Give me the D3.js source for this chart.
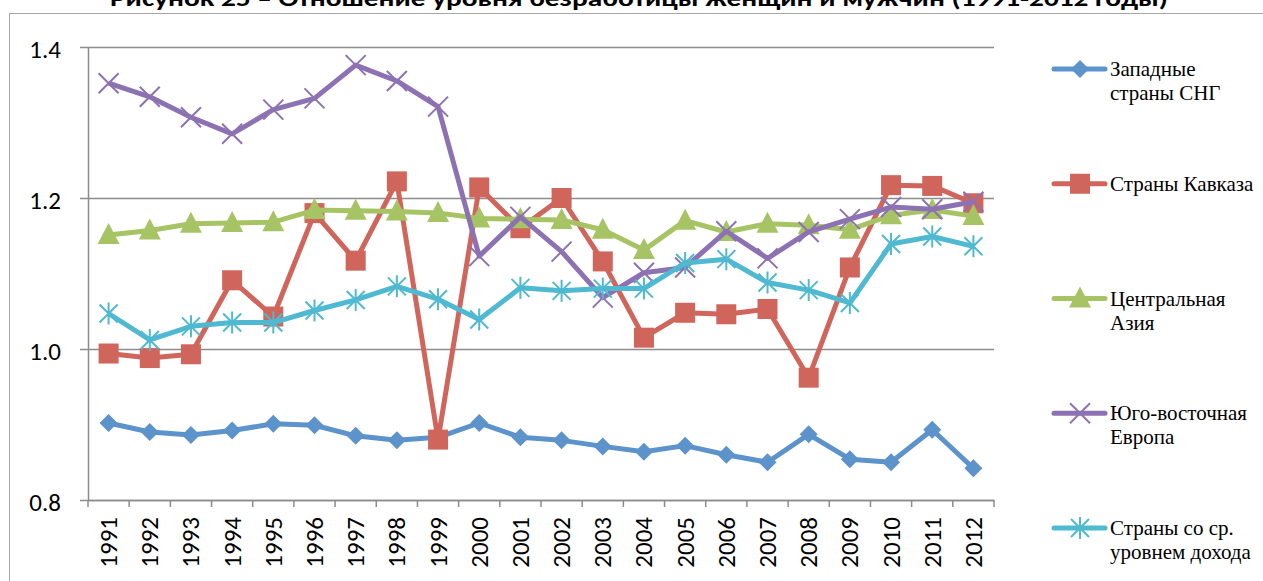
<!DOCTYPE html>
<html>
<head>
  <meta charset="UTF-8">
  <title>Отношение уровня безработицы</title>
  <script src="https://d3js.org/d3.v7.min.js"></script>
  <style>
    html, body { margin: 0; padding: 0; background: #fff; }
    svg { display: block; }
  </style>
</head>
<body>
  <svg width="1263" height="581"></svg>
  <script>
    const years = [`1991`, `1992`, `1993`, `1994`, `1995`, `1996`, `1997`, `1998`, `1999`, `2000`, `2001`,
      `2002`, `2003`, `2004`, `2005`, `2006`, `2007`, `2008`, `2009`, `2010`, `2011`, `2012`];
    const yTicks = [0.8, 1.0, 1.2, 1.4];

    const westCis = [0.902, 0.890, 0.886, 0.892, 0.901, 0.899, 0.885, 0.879, 0.883, 0.902, 0.883,
      0.879, 0.871, 0.864, 0.872, 0.860, 0.850, 0.887, 0.854, 0.850, 0.893, 0.842];
    const caucasus = [0.994, 0.988, 0.993, 1.091, 1.043, 1.180, 1.117, 1.222, 0.880, 1.214, 1.160,
      1.200, 1.116, 1.015, 1.048, 1.046, 1.053, 0.962, 1.108, 1.217, 1.216, 1.193];
    const centralAsia = [1.151, 1.157, 1.166, 1.167, 1.168, 1.184, 1.183, 1.182, 1.180, 1.173, 1.172,
      1.171, 1.158, 1.131, 1.170, 1.155, 1.166, 1.164, 1.158, 1.177, 1.184, 1.176];
    const seEurope = [1.352, 1.334, 1.307, 1.285, 1.317, 1.332, 1.376, 1.355, 1.321, 1.123, 1.175,
      1.129, 1.068, 1.101, 1.108, 1.156, 1.120, 1.155, 1.172, 1.188, 1.185, 1.195];
    const midIncome = [1.047, 1.012, 1.030, 1.035, 1.035, 1.051, 1.065, 1.083, 1.066, 1.039, 1.081,
      1.077, 1.080, 1.080, 1.114, 1.119, 1.088, 1.078, 1.061, 1.139, 1.149, 1.136];

    const seriesNames = [[`Западные`, `страны СНГ`], [`Страны Кавказа`], [`Центральная`, `Азия`],
      [`Юго-восточная`, `Европа`], [`Страны со ср.`, `уровнем дохода`]];

    const series = [
      {name: seriesNames[0], values: westCis, color: `#5b93ca`, marker: `diamond`},
      {name: seriesNames[1], values: caucasus, color: `#d0655b`, marker: `square`},
      {name: seriesNames[2], values: centralAsia, color: `#a7c465`, marker: `triangle`},
      {name: seriesNames[3], values: seEurope, color: `#8d72b3`, marker: `cross`},
      {name: seriesNames[4], values: midIncome, color: `#4fb9d1`, marker: `star`},
    ];

    const sansFont = `'Carlito', 'Liberation Sans', sans-serif`;
    const serifFont = `'Liberation Serif', 'Times New Roman', serif`;

    const plot = {left: 88, right: 994, top: 47, bottom: 500};
    const svg = d3.select(`svg`);

    // title, cut off at the top of the picture as in the source
    svg.append(`text`)
      .attr(`x`, 110).attr(`y`, 6)
      .attr(`textLength`, 1058)
      .attr(`lengthAdjust`, `spacingAndGlyphs`)
      .style(`font-family`, sansFont)
      .style(`font-weight`, `bold`)
      .style(`font-size`, `22px`)
      .text(`Рисунок 25 – Отношение уровня безработицы женщин и мужчин (1991-2012 годы)`);

    // chart frame
    svg.append(`rect`)
      .attr(`x`, 9.5).attr(`y`, 13.5)
      .attr(`width`, 1300).attr(`height`, 600)
      .attr(`fill`, `none`).attr(`stroke`, `#a6a6a6`);

    const xScale = d3.scaleBand()
      .domain(years)
      .range([plot.left, plot.right]);
    const xc = d => xScale(d) + xScale.bandwidth() / 2;

    const yScale = d3.scaleLinear()
      .domain([0.8, 1.4])
      .range([plot.bottom, plot.top]);

    // grid
    svg.append(`g`)
      .selectAll(`line`)
      .data(yTicks)
      .join(`line`)
      .attr(`x1`, plot.left - 8).attr(`x2`, plot.right)
      .attr(`y1`, d => Math.round(yScale(d)) + 0.5)
      .attr(`y2`, d => Math.round(yScale(d)) + 0.5)
      .attr(`stroke`, `#8c8c8c`).attr(`stroke-width`, 1.5);

    const yAxis = d3.axisLeft(yScale)
      .tickValues(yTicks)
      .tickSize(0)
      .tickPadding(27)
      .tickFormat(d3.format(`.1f`));
    const gy = svg.append(`g`)
      .attr(`transform`, `translate(${plot.left}, 0)`)
      .call(yAxis);
    gy.attr(`font-family`, null);
    gy.select(`.domain`).attr(`stroke`, `#8c8c8c`).attr(`stroke-width`, 1.5);
    gy.selectAll(`text`)
      .style(`font-family`, sansFont)
      .style(`font-size`, `25px`)
      .attr(`fill`, `#000`)
      .attr(`dy`, `0.42em`);

    const xAxis = d3.axisBottom(xScale).tickSize(0).tickPadding(0);
    const gx = svg.append(`g`)
      .attr(`transform`, `translate(0, ${plot.bottom})`)
      .call(xAxis);
    gx.attr(`font-family`, null);
    gx.select(`.domain`).attr(`stroke`, `#8c8c8c`).attr(`stroke-width`, 1.5);
    gx.selectAll(`.tick text`)
      .attr(`transform`, `rotate(-90)`)
      .attr(`x`, -17).attr(`y`, 0)
      .attr(`dy`, `0.34em`)
      .attr(`text-anchor`, `end`)
      .style(`font-family`, sansFont)
      .style(`font-size`, `25px`)
      .attr(`fill`, `#000`);

    // category boundary ticks
    svg.append(`g`)
      .selectAll(`line`)
      .data(years.concat([null]))
      .join(`line`)
      .attr(`x1`, d => d === null ? plot.right : xScale(d))
      .attr(`x2`, d => d === null ? plot.right : xScale(d))
      .attr(`y1`, plot.bottom).attr(`y2`, plot.bottom + 7)
      .attr(`stroke`, `#8c8c8c`).attr(`stroke-width`, 1.5);

    function drawMarker(g, type, color) {
      if (type === `diamond`) {
        g.append(`path`).attr(`d`, `M0,-9L9,0L0,9L-9,0Z`).attr(`fill`, color);
      } else if (type === `square`) {
        g.append(`rect`).attr(`x`, -10).attr(`y`, -10).attr(`width`, 20).attr(`height`, 20)
          .attr(`fill`, color);
      } else if (type === `triangle`) {
        g.append(`path`).attr(`d`, `M0,-12L11,9L-11,9Z`).attr(`fill`, color);
      } else if (type === `cross`) {
        g.append(`path`).attr(`d`, `M-10,-10L10,10M10,-10L-10,10`)
          .attr(`stroke`, color).attr(`stroke-width`, 2).attr(`fill`, `none`);
      } else if (type === `star`) {
        g.append(`path`).attr(`d`, `M-9,-9L9,9M9,-9L-9,9M0,-11L0,11`)
          .attr(`stroke`, color).attr(`stroke-width`, 2).attr(`fill`, `none`);
      }
    }

    const line = d3.line()
      .x((d, i) => xc(years[i]))
      .y(d => yScale(d));

    series.forEach(s => {
      svg.append(`path`)
        .attr(`d`, line(s.values))
        .attr(`fill`, `none`)
        .attr(`stroke`, s.color)
        .attr(`stroke-width`, 5)
        .attr(`stroke-linejoin`, `round`);
      s.values.forEach((v, i) => {
        const g = svg.append(`g`).attr(`transform`, `translate(${xc(years[i])}, ${yScale(v)})`);
        drawMarker(g, s.marker, s.color);
      });
    });

    // legend
    const legendY = d3.scalePoint()
      .domain(d3.range(series.length))
      .range([69, 528]);

    series.forEach((s, i) => {
      const y = legendY(i);
      const g = svg.append(`g`).attr(`transform`, `translate(0, ${y})`);
      g.append(`line`)
        .attr(`x1`, 1054).attr(`x2`, 1105)
        .attr(`stroke`, s.color).attr(`stroke-width`, 5).attr(`stroke-linecap`, `round`);
      const m = g.append(`g`).attr(`transform`, `translate(1080, 0)`);
      drawMarker(m, s.marker, s.color);
      const t = g.append(`text`)
        .attr(`x`, 1110).attr(`y`, 7)
        .style(`font-family`, serifFont)
        .style(`font-size`, `21px`)
        .attr(`fill`, `#000`);
      s.name.forEach((n, j) => {
        t.append(`tspan`).attr(`x`, 1110).attr(`dy`, j === 0 ? 0 : 24).text(n);
      });
    });
  </script>
</body>
</html>
